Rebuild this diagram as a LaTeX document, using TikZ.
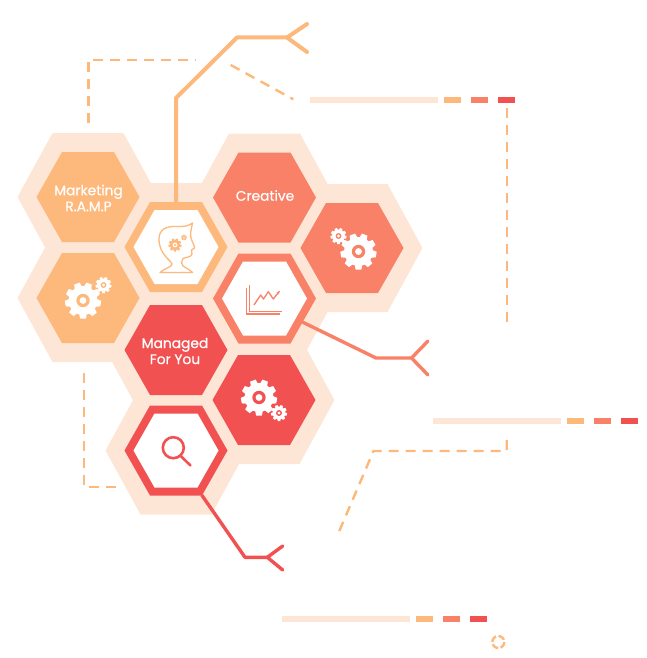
\documentclass[tikz,border=0pt]{standalone}
\usepackage{fontspec}
\usepackage{xcolor}
\usetikzlibrary{arrows.meta}
\newfontfamily\hexfont{Poppins}[FakeBold=0.7]
\definecolor{peach}{HTML}{FEE6D6}
\definecolor{rampcol}{HTML}{FDB87C}
\definecolor{coralcol}{HTML}{F88167}
\definecolor{redcol}{HTML}{F25152}

\begin{document}
\begin{tikzpicture}[
  x=1pt, y=-1pt,
  hexlabel/.style={text=white, align=center, inner sep=0pt,
                   font=\hexfont\fontsize{13.8}{16}\selectfont},
  solidline/.style={line width=3.4pt, line join=round, line cap=round},
  dashline/.style={rampcol, line width=2.4pt, dash pattern=on 10pt off 7pt},
  pics/hexa/.style n args={3}{code={
    \path[pic actions] (-#1,0) -- (-#3,-#2) -- (#3,-#2) -- (#1,0)
      -- (#3,#2) -- (-#3,#2) -- cycle;}},
  pics/gear/.style n args={3}{code={
    \foreach \a in {0,40,...,320} {
      \fill[#2, rotate=\a] ({-.22*#1},{.7*#1}) -- ({-.16*#1},#1)
        -- ({.16*#1},#1) -- ({.22*#1},{.7*#1}) -- cycle;
    }
    \fill[#2] (0,0) circle[radius=.8*#1];
    \fill[#3] (0,0) circle[radius=.37*#1];
    \fill[#2] (0,0) circle[radius=.19*#1];}},
  pics/statusbar/.style={code={
    \fill[peach] (0,-3) rectangle (128,3);
    \foreach \s/\c in {134/rampcol,161/coralcol,188/redcol} {
      \fill[\c] (\s,-3) rectangle (\s+16.5,3);
    }}},
]
\useasboundingbox (0,0) rectangle (646,658);

% === Hexagon centres ===
\coordinate (marketing) at (88,197);
\coordinate (gearsA) at (88,298);
\coordinate (head) at (176,247);
\coordinate (creative) at (264.5,197.5);
\coordinate (gearsB) at (352,248);
\coordinate (chart) at (264.5,298.5);
\coordinate (managed) at (176,350);
\coordinate (gearsC) at (264,400);
\coordinate (search) at (176,450.5);

% === Halo behind all the cells ===
\foreach \cell in {marketing,gearsA,head,creative,gearsB,chart,managed,gearsC,search} {
  \pic[fill=peach] at (\cell) {hexa={70.5}{64}{35.5}};
}

% === Filled cells ===
\foreach \cell/\c in {marketing/rampcol,gearsA/rampcol,creative/coralcol,gearsB/coralcol,
                      managed/redcol,gearsC/redcol} {
  \pic[fill=\c] at (\cell) {hexa={51.5}{45}{26}};
}

% === Ring cells ===
\foreach \cell/\c in {head/rampcol,chart/coralcol,search/redcol} {
  \pic[fill=\c] at (\cell) {hexa={51.5}{45}{26}};
  \pic[fill=white] at (\cell) {hexa={42.5}{37}{21.5}};
}

% === Labels ===
\node[hexlabel] (marketinglabel) at (88.5,198) {Marketing\\R.A.M.P};
\node[hexlabel] (creativelabel) at (265,195.5) {Creative};
\node[hexlabel] (managedlabel) at (175,351) {Managed\\For You};

% === Gears ===
\pic at (83,300.5) {gear={18}{white}{rampcol}};
\pic at (103.5,285) {gear={8}{white}{rampcol}};
\pic at (358.5,251.5) {gear={18}{white}{coralcol}};
\pic at (338.5,236) {gear={8}{white}{coralcol}};
\pic at (259,397.5) {gear={18}{white}{redcol}};
\pic at (279,413) {gear={8}{white}{redcol}};

% === Head icon ===
\draw[rampcol, line width=1.3pt, line join=round]
  (160,272.5) .. controls (165,268) and (172,267) .. (172,264)
  .. controls (172,261) and (159,255) .. (159,239)
  .. controls (159,229) and (167,226) .. (176,226.5)
  .. controls (183,227) and (189,226) .. (192.5,223)
  .. controls (191,230) and (190,234) .. (191,238)
  .. controls (192,242) and (195,246) .. (194.5,248)
  -- (191.5,250) -- (192,254)
  .. controls (191,258) and (185,257) .. (183,258.5)
  .. controls (181,261) and (181,264) .. (183,266)
  .. controls (186,268) and (190,270) .. (192.5,272.5) -- cycle;
\pic at (175,245) {gear={6.5}{rampcol}{white}};
\pic at (184,237.5) {gear={2.8}{rampcol}{white}};

% === Chart icon ===
\draw[coralcol, line width=1.3pt] (246.7,288) -- (246.7,314) -- (280,314);
\draw[coralcol, line width=1.3pt] (249.7,285) -- (249.7,311.5) -- (281.5,311.5);
\draw[coralcol, line width=1.3pt, -{Stealth[length=4pt]}, line join=round]
  (254,305) -- (260.7,295) -- (263.5,299) -- (268.3,291.7) -- (273.3,299) -- (280,290.5);

% === Search icon ===
\draw[redcol, line width=2.6pt] (173.3,447.7) circle[radius=10.5];
\draw[redcol, line width=2.6pt, line cap=round] (180.7,456) -- (190.5,465.5);

% === Solid connectors ===
\coordinate (headtop) at (176,202);
\coordinate (rampbend) at (176,98);
\coordinate (rampelbow) at (237,37.5);
\coordinate (rampfork) at (287,37.5);
\coordinate (ramptipa) at (307,24);
\coordinate (ramptipb) at (307,52);
\draw[solidline, rampcol, line width=4pt, line cap=butt] (headtop) -- (rampbend) -- (rampelbow) -- (rampfork);
\draw[solidline, rampcol, line width=4pt] (ramptipa) -- (rampfork) -- (ramptipb);

\coordinate (chartend) at (301.7,321.7);
\coordinate (chartbend) at (376,358);
\coordinate (chartfork) at (411.5,358);
\coordinate (charttipa) at (428,341);
\coordinate (charttipb) at (428,375);
\draw[solidline, coralcol, line cap=butt] (chartend) -- (chartbend) -- (chartfork);
\draw[solidline, coralcol] (charttipa) -- (chartfork) -- (charttipb);

\coordinate (searchend) at (201.7,495);
\coordinate (searchbend) at (245,557.3);
\coordinate (searchfork) at (267.3,557.3);
\coordinate (searchtipa) at (282.7,546);
\coordinate (searchtipb) at (282.7,570);
\draw[solidline, redcol, line cap=butt] (searchend) -- (searchbend) -- (searchfork);
\draw[solidline, redcol] (searchtipa) -- (searchfork) -- (searchtipb);

% === Dashed lines ===
\coordinate (dasha) at (88.3,123);
\coordinate (dashb) at (88.3,60);
\coordinate (dashc) at (196,60);
\draw[dashline] (dasha) -- (dashb) -- (dashc);
\coordinate (dashd) at (230.7,65);
\coordinate (dashe) at (293.3,99.3);
\draw[dashline] (dashd) -- (dashe);
\coordinate (dashf) at (506.7,108);
\coordinate (dashg) at (506.7,326);
\draw[dashline] (dashf) -- (dashg);
\coordinate (dashh) at (84,373);
\coordinate (dashi) at (84,487);
\coordinate (dashj) at (116,487);
\draw[dashline] (dashh) -- (dashi) -- (dashj);
\coordinate (dashk) at (339.3,531);
\coordinate (dashl) at (373.5,451);
\coordinate (dashm) at (506.7,451);
\coordinate (dashn) at (506.7,438);
\draw[dashline] (dashk) -- (dashl) -- (dashm) -- (dashn);

% === Bars ===
\pic at (310,100) {statusbar};
\pic at (433,420.7) {statusbar};
\pic at (282,619) {statusbar};

% === Small ring ===
\draw[rampcol, line width=2.4pt, dash pattern=on 7pt off 2.4pt] (498.3,642) circle[radius=6];

\end{tikzpicture}
\end{document}
